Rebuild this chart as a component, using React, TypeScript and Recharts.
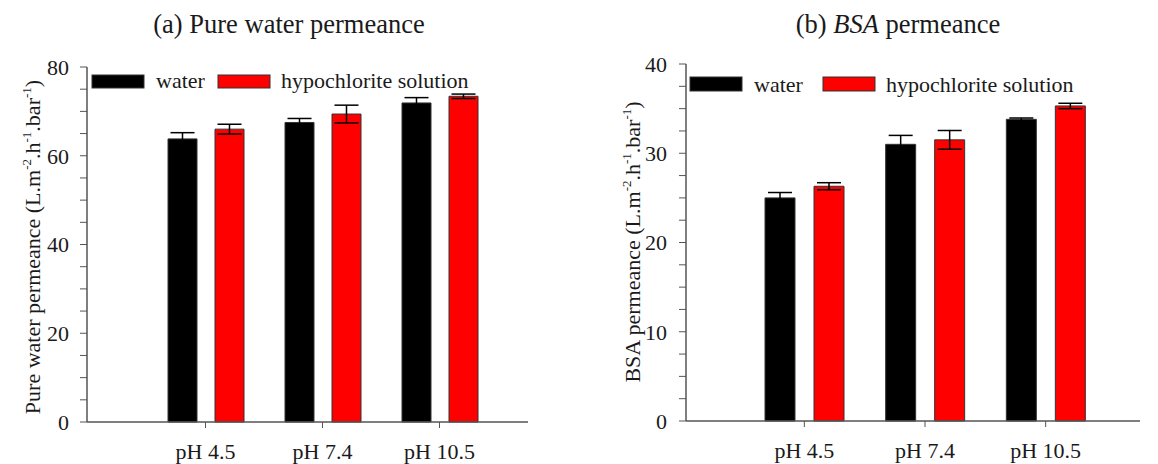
import React from 'react';
import { BarChart, Bar, XAxis, YAxis, ErrorBar } from 'recharts';

const categories = ['pH 4.5', 'pH 7.4', 'pH 10.5'];
const seriesNames = ['water', 'hypochlorite solution'];

const pureWater = [63.8, 67.5, 71.9];
const pureWaterErr = [1.4, 0.9, 1.2];
const pureHypo = [66.0, 69.4, 73.4];
const pureHypoErr = [1.1, 2.0, 0.5];

const bsaWater = [25.0, 31.0, 33.8];
const bsaWaterErr = [0.6, 1.0, 0.15];
const bsaHypo = [26.3, 31.5, 35.3];
const bsaHypoErr = [0.4, 1.05, 0.3];

const pureTicks = [0, 5, 10, 15, 20, 25, 30, 35, 40, 45, 50, 55, 60, 65, 70, 75, 80];
const bsaTicks = [0, 2.5, 5, 7.5, 10, 12.5, 15, 17.5, 20, 22.5, 25, 27.5, 30, 32.5, 35, 37.5, 40];

const FONT = '"Liberation Serif", "Times New Roman", serif';
const AXIS = '#555';
const TXT = '#1a1a1a';

const pureData = categories.map((c, i) => ({
  cat: c, w: pureWater[i], we: pureWaterErr[i], h: pureHypo[i], he: pureHypoErr[i],
}));
const bsaData = categories.map((c, i) => ({
  cat: c, w: bsaWater[i], we: bsaWaterErr[i], h: bsaHypo[i], he: bsaHypoErr[i],
}));

function YLabel({ x, cy, prefix }: { x: number; cy: number; prefix: string }) {
  return (
    <text
      transform={`translate(${x},${cy}) rotate(-90)`}
      textAnchor="middle"
      fontFamily={FONT}
      fontSize={22}
      fill={TXT}
    >
      <tspan>{prefix} (L.m</tspan>
      <tspan fontSize={13} dy={-9}>-2</tspan>
      <tspan dy={9}>.h</tspan>
      <tspan fontSize={13} dy={-9}>-1</tspan>
      <tspan dy={9}>.bar</tspan>
      <tspan fontSize={13} dy={-9}>-1</tspan>
      <tspan dy={9}>)</tspan>
    </text>
  );
}

function LegendSvg({ x, y, h, textY, redOff }: { x: number; y: number; h: number; textY: number; redOff: number }) {
  return (
    <g fontFamily={FONT} fontSize={22} fill={TXT}>
      <rect x={x} y={y} width={52} height={h} fill="#000" stroke="#333" strokeWidth={1} />
      <text x={x + 64} y={textY}>{seriesNames[0]}</text>
      <rect x={x + redOff} y={y} width={52} height={h} fill="#ff0000" stroke="#333" strokeWidth={1} />
      <text x={x + redOff + 63} y={textY}>{seriesNames[1]}</text>
    </g>
  );
}

const tickStyle = { fontFamily: FONT, fontSize: 22, fill: TXT };

export default function App() {
  return (
    <div style={{ position: 'absolute', left: 0, top: 0, width: 1158, height: 464, background: '#fff' }}>
      <div style={{ position: 'absolute', left: 0, top: 0 }}>
        <BarChart
          width={579}
          height={464}
          data={pureData}
          margin={{ top: 67, right: 51, left: 0, bottom: 0 }}
          barSize={29}
          barGap={18}
        >
          <XAxis
            dataKey="cat"
            height={42}
            padding={{ left: 60, right: 30 }}
            tick={tickStyle}
            tickSize={6}
            tickMargin={15}
            stroke={AXIS}
            axisLine={{ stroke: AXIS, strokeWidth: 1.5 }}
          />
          <XAxis xAxisId="top" dataKey="cat" orientation="top" height={0} tick={false} tickLine={false} axisLine={{ stroke: AXIS, strokeWidth: 1.5 }} />
          <YAxis
            width={87}
            domain={[0, 80]}
            ticks={pureTicks}
            interval={0}
            tickFormatter={(v: number) => (v % 20 === 0 ? String(v) : '')}
            tick={tickStyle}
            tickSize={7}
            tickMargin={11}
            stroke={AXIS}
            axisLine={{ stroke: AXIS, strokeWidth: 1.5 }}
          />
          <YAxis yAxisId="right" orientation="right" width={0} domain={[0, 80]} tick={false} tickLine={false} axisLine={{ stroke: AXIS, strokeWidth: 1.5 }} />
          <Bar dataKey="w" fill="#000" stroke="#333" strokeWidth={1} isAnimationActive={false}>
            <ErrorBar dataKey="we" width={12} stroke="#000" strokeWidth={1.5} direction="y" />
          </Bar>
          <Bar dataKey="h" fill="#ff0000" stroke="#333" strokeWidth={1} isAnimationActive={false}>
            <ErrorBar dataKey="he" width={12} stroke="#000" strokeWidth={1.5} direction="y" />
          </Bar>
          <text x={289} y={33} textAnchor="middle" fontFamily={FONT} fontSize={26.5} fill={TXT}>(a) Pure water permeance</text>
          <YLabel x={40} cy={247} prefix="Pure water permeance" />
          <LegendSvg x={92} y={75} h={13} textY={88} redOff={126} />
        </BarChart>
      </div>
      <div style={{ position: 'absolute', left: 579, top: 0 }}>
        <BarChart
          width={579}
          height={464}
          data={bsaData}
          margin={{ top: 64, right: 18, left: 0, bottom: 0 }}
          barSize={30}
          barGap={19}
        >
          <XAxis
            dataKey="cat"
            height={43}
            padding={{ left: 58, right: 34 }}
            tick={tickStyle}
            tickSize={6}
            tickMargin={15}
            stroke={AXIS}
            axisLine={{ stroke: AXIS, strokeWidth: 1.5 }}
          />
          <XAxis xAxisId="top" dataKey="cat" orientation="top" height={0} tick={false} tickLine={false} axisLine={{ stroke: AXIS, strokeWidth: 1.5 }} />
          <YAxis
            width={107}
            domain={[0, 40]}
            ticks={bsaTicks}
            interval={0}
            tickFormatter={(v: number) => (v % 10 === 0 ? String(v) : '')}
            tick={tickStyle}
            tickSize={7}
            tickMargin={12}
            stroke={AXIS}
            axisLine={{ stroke: AXIS, strokeWidth: 1.5 }}
          />
          <YAxis yAxisId="right" orientation="right" width={0} domain={[0, 40]} tick={false} tickLine={false} axisLine={{ stroke: AXIS, strokeWidth: 1.5 }} />
          <Bar dataKey="w" fill="#000" stroke="#333" strokeWidth={1} isAnimationActive={false}>
            <ErrorBar dataKey="we" width={12} stroke="#000" strokeWidth={1.5} direction="y" />
          </Bar>
          <Bar dataKey="h" fill="#ff0000" stroke="#333" strokeWidth={1} isAnimationActive={false}>
            <ErrorBar dataKey="he" width={12} stroke="#000" strokeWidth={1.5} direction="y" />
          </Bar>
          <text x={319} y={33} textAnchor="middle" fontFamily={FONT} fontSize={26.5} fill={TXT}>
            (b) <tspan fontStyle="italic">BSA</tspan> permeance
          </text>
          <YLabel x={61} cy={242} prefix="BSA permeance" />
          <LegendSvg x={111} y={77} h={14} textY={92} redOff={133} />
        </BarChart>
      </div>
    </div>
  );
}
